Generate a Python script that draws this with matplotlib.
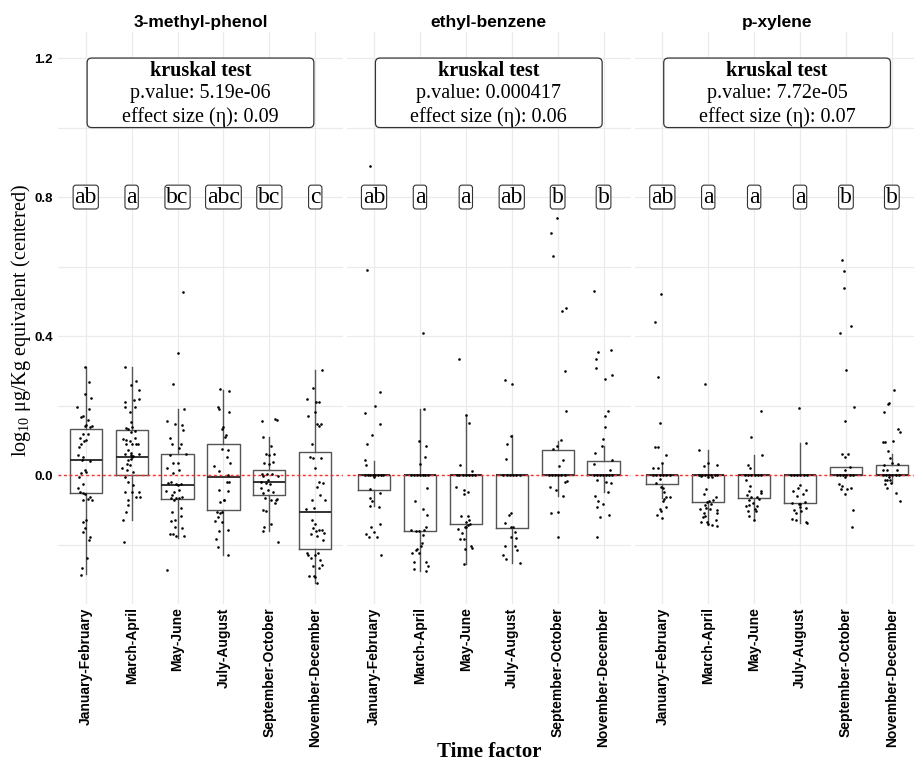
import matplotlib
matplotlib.use('Agg')
import matplotlib.pyplot as plt
from matplotlib.patches import FancyBboxPatch

plt.rcParams['mathtext.fontset'] = 'custom'
plt.rcParams['mathtext.rm'] = 'Liberation Serif'
plt.rcParams['mathtext.it'] = 'Liberation Serif:italic'
plt.rcParams['mathtext.bf'] = 'Liberation Serif:bold'

# ---------------- data ----------------
periods = ['January-February', 'March-April', 'May-June', 'July-August',
           'September-October', 'November-December']
compounds = ['3-methyl-phenol', 'ethyl-benzene', 'p-xylene']
p_values = ['5.19e-06', '0.000417', '7.72e-05']
effect_sizes = ['0.09', '0.06', '0.07']

mp_letters = ['ab', 'a', 'bc', 'abc', 'bc', 'c']
eb_letters = ['ab', 'a', 'a', 'ab', 'b', 'b']
px_letters = ['ab', 'a', 'a', 'a', 'b', 'b']

# box statistics
mp_q1 = [-0.052, 0.000, -0.070, -0.100, -0.057, -0.214]
mp_med = [0.042, 0.051, -0.029, -0.005, -0.021, -0.107]
mp_q3 = [0.133, 0.130, 0.061, 0.090, 0.015, 0.067]
mp_lo = [-0.286, -0.129, -0.181, -0.229, -0.162, -0.311]
mp_hi = [0.310, 0.310, 0.189, 0.245, 0.111, 0.302]

eb_q1 = [-0.043, -0.162, -0.141, -0.152, 0.0, 0.0]
eb_med = [0.0, 0.0, 0.0, 0.0, 0.0, 0.0]
eb_q3 = [0.0, 0.0, 0.0, 0.0, 0.073, 0.040]
eb_lo = [-0.090, -0.276, -0.255, -0.252, -0.059, -0.048]
eb_hi = [0.041, 0.189, 0.173, 0.114, 0.098, 0.084]

px_q1 = [-0.026, -0.078, -0.067, -0.081, 0.0, 0.0]
px_med = [0.0, 0.0, 0.0, 0.0, 0.0, 0.0]
px_q3 = [0.0, 0.0, 0.0, 0.0, 0.022, 0.029]
px_lo = [-0.067, -0.143, -0.130, -0.138, 0.0, -0.024]
px_hi = [0.036, 0.071, 0.057, 0.092, 0.022, 0.060]

mp_pts = [
    [(-0.01,0.310),(0.08,0.267),(-0.19,0.197),(-0.01,0.233),(0.11,0.222),(0.08,0.190),(-0.10,0.167),(-0.07,0.170),
     (0.06,0.159),(0.01,0.143),(-0.01,0.140),(0.14,0.140),(0.10,0.137),(-0.07,0.119),(0.04,0.119),(-0.12,0.108),
     (0.01,0.102),(-0.10,0.089),(-0.03,0.098),(-0.14,0.081),(-0.16,0.057),(-0.07,0.052),(-0.09,0.043),(0.09,0.041),
     (-0.01,0.014),(0.01,0.010),(-0.10,0.005),(-0.14,-0.005),(-0.07,-0.026),(-0.16,-0.038),(-0.12,-0.048),(-0.07,-0.052),
     (-0.01,-0.054),(0.09,-0.062),(0.06,-0.070),(-0.07,-0.071),(0.13,-0.071),(0.01,-0.130),(-0.05,-0.136),(-0.01,-0.152),
     (-0.07,-0.164),(0.09,-0.178),(0.07,-0.188),(0.02,-0.239),(-0.09,-0.268),(-0.11,-0.287)],
    [(-0.14,0.312),(-0.01,0.260),(0.09,0.271),(0.15,0.245),(0.06,0.216),(0.15,0.219),(-0.14,0.210),(-0.15,0.195),
     (0.08,0.195),(-0.04,0.181),(-0.01,0.154),(-0.12,0.136),(-0.09,0.133),(0.01,0.138),(0.08,0.127),(-0.02,0.124),
     (-0.19,0.104),(-0.12,0.102),(-0.04,0.098),(0.08,0.108),(-0.12,0.089),(0.01,0.089),(0.09,0.090),(0.14,0.089),
     (-0.09,0.073),(-0.01,0.064),(-0.14,0.062),(-0.01,0.057),(0.01,0.052),(0.04,0.054),(0.15,0.062),(-0.08,0.043),
     (-0.01,0.045),(-0.10,0.031),(-0.04,0.028),(-0.20,0.019),(-0.11,0.016),(0.02,0.010),(-0.15,-0.005),(-0.09,-0.019),
     (0.02,-0.029),(0.01,-0.048),(-0.14,-0.050),(0.15,-0.050),(0.09,-0.064),(0.18,-0.062),(-0.07,-0.073),(-0.09,-0.086),
     (-0.12,-0.105),(-0.18,-0.129),(-0.16,-0.193)],
    [(0.12,0.526),(0.02,0.352),(-0.09,0.262),(0.14,0.190),(-0.22,0.155),(-0.06,0.146),(0.09,0.143),(0.11,0.129),
     (-0.17,0.108),(-0.11,0.089),(0.07,0.089),(0.04,0.078),(-0.16,0.057),(0.18,0.062),(-0.09,0.036),(0.01,0.035),
     (-0.22,0.019),(0.04,0.016),(-0.09,0.005),(-0.20,-0.022),(-0.14,-0.019),(-0.04,-0.026),(0.01,-0.030),(0.07,-0.026),
     (0.04,-0.043),(-0.25,-0.045),(-0.07,-0.050),(-0.11,-0.057),(-0.14,-0.067),(0.04,-0.067),(0.09,-0.062),(-0.04,-0.067),
     (-0.07,-0.071),(-0.12,-0.105),(0.08,-0.095),(0.07,-0.119),(-0.14,-0.133),(-0.06,-0.129),(-0.05,-0.150),(0.09,-0.152),
     (-0.17,-0.171),(-0.09,-0.171),(-0.04,-0.176),(0.14,-0.176),(-0.22,-0.273)],
    [(-0.07,0.248),(0.13,0.243),(-0.11,0.195),(-0.09,0.190),(0.13,0.181),(-0.01,0.138),(-0.04,0.133),(0.06,0.114),
     (0.04,0.110),(-0.04,0.076),(0.11,0.071),(-0.20,0.027),(0.07,0.052),(0.14,0.035),(-0.09,0.012),(0.11,0.000),
     (0.07,-0.019),(0.13,-0.019),(-0.09,-0.043),(0.09,-0.045),(0.02,-0.071),(-0.07,-0.078),(0.01,-0.073),(-0.15,-0.107),
     (-0.04,-0.107),(-0.08,-0.110),(-0.12,-0.121),(-0.19,-0.133),(-0.03,-0.136),(0.09,-0.157),(-0.09,-0.162),(-0.16,-0.184),
     (0.10,-0.229),(-0.12,-0.207)],
    [(-0.17,0.157),(0.12,0.162),(0.16,0.159),(-0.13,0.111),(0.03,0.084),(-0.08,0.062),(0.10,0.062),(-0.01,0.057),
     (-0.12,0.035),(-0.01,0.033),(0.09,0.038),(-0.16,0.003),(-0.06,0.003),(0.05,0.002),(-0.13,-0.002),(-0.04,-0.014),
     (0.18,-0.003),(-0.08,-0.022),(-0.19,-0.019),(0.01,-0.026),(-0.18,-0.038),(-0.02,-0.043),(-0.13,-0.052),(0.09,-0.048),
     (-0.09,-0.067),(0.03,-0.071),(0.17,-0.070),(-0.13,-0.100),(-0.07,-0.103),(0.12,-0.081),(0.14,-0.071),(-0.14,-0.160),
     (0.03,-0.140),(-0.12,-0.148),(0.19,-0.193)],
    [(0.14,0.302),(-0.04,0.252),(-0.19,0.219),(0.01,0.210),(0.08,0.211),(-0.15,0.171),(-0.01,0.181),(0.04,0.146),
     (0.12,0.146),(0.08,0.140),(-0.07,0.089),(-0.12,0.052),(-0.04,0.048),(0.12,0.050),(-0.01,0.019),(0.09,-0.019),
     (0.16,-0.024),(0.03,-0.033),(-0.07,-0.071),(0.21,-0.071),(0.10,-0.057),(-0.21,-0.098),(-0.02,-0.095),(-0.08,-0.130),
     (-0.01,-0.140),(-0.04,-0.152),(0.08,-0.157),(0.14,-0.157),(0.01,-0.162),(-0.09,-0.171),(0.04,-0.176),(0.16,-0.186),
     (0.20,-0.167),(-0.19,-0.224),(-0.15,-0.229),(-0.01,-0.229),(0.06,-0.224),(-0.09,-0.238),(0.10,-0.243),(0.14,-0.259),
     (0.09,-0.267),(-0.04,-0.262),(-0.13,-0.289),(-0.02,-0.290),(0.04,-0.311),(0.00,-0.292)],
]

eb_pts = [
    [(-0.09,0.888),(-0.15,0.591),(0.14,0.238),(0.02,0.198),(-0.20,0.179),(0.13,0.148),(-0.05,0.116),(-0.16,0.090),
     (-0.20,0.043),(-0.17,0.028),(-0.20,0.0),(-0.14,0.0),(-0.08,0.0),(-0.03,0.0),(0.03,0.0),(0.09,0.0),(0.15,0.0),
     (0.20,0.0),(0.01,-0.005),(-0.09,-0.039),(0.14,-0.052),(-0.08,-0.067),(-0.04,-0.076),(-0.08,-0.090),(0.11,-0.093),
     (0.12,-0.140),(-0.06,-0.150),(-0.01,-0.165),(-0.17,-0.171),(-0.11,-0.179),(0.07,-0.178),(0.16,-0.230)],
    [(0.07,0.408),(0.08,0.190),(-0.02,0.099),(0.14,0.083),(0.12,0.052),(0.01,0.032),(-0.19,0.0),(-0.12,0.0),
     (-0.06,0.0),(0.0,0.0),(0.06,0.0),(0.12,0.0),(0.18,0.0),(0.15,-0.038),(-0.10,-0.075),(0.07,-0.097),(0.15,-0.116),
     (-0.19,-0.157),(-0.09,-0.160),(-0.01,-0.160),(0.14,-0.148),(0.09,-0.157),(0.06,-0.173),(0.05,-0.195),(0.03,-0.205),
     (-0.07,-0.212),(-0.09,-0.216),(-0.01,-0.224),(-0.18,-0.224),(0.13,-0.250),(-0.13,-0.250),(0.18,-0.262),
     (0.14,-0.277),(-0.12,-0.270)],
    [(-0.15,0.333),(0.0,0.173),(0.07,0.150),(-0.13,0.029),(0.14,0.012),(-0.20,0.0),(-0.14,0.0),(-0.07,0.0),(0.0,0.0),
     (0.06,0.0),(0.13,0.0),(0.19,0.0),(-0.21,-0.035),(-0.03,-0.043),(0.05,-0.050),(-0.03,-0.055),(-0.10,-0.117),
     (0.04,-0.117),(0.07,-0.129),(0.01,-0.136),(0.04,-0.145),(-0.02,-0.148),(0.0,-0.150),(0.09,-0.141),(-0.17,-0.155),
     (-0.09,-0.167),(-0.12,-0.183),(-0.04,-0.183),(-0.02,-0.214),(0.11,-0.205),(0.13,-0.210),(-0.03,-0.255)],
    [(-0.14,0.275),(0.01,0.261),(-0.01,0.112),(-0.10,0.089),(-0.13,0.045),(-0.18,0.0),(-0.11,0.0),(-0.04,0.0),
     (0.03,0.0),(0.10,0.0),(0.17,0.0),(-0.01,-0.110),(-0.05,-0.116),(-0.15,-0.138),(-0.02,-0.150),(0.02,-0.150),
     (0.07,-0.165),(-0.02,-0.178),(0.09,-0.181),(-0.15,-0.205),(0.07,-0.205),(0.11,-0.216),(-0.18,-0.229),
     (-0.12,-0.241),(0.17,-0.252)],
    [(-0.02,0.739),(-0.15,0.697),(-0.10,0.630),(0.10,0.471),(0.18,0.481),(0.17,0.300),(0.18,0.183),(0.07,0.100),
     (-0.01,0.084),(-0.11,0.074),(0.12,0.043),(0.04,0.027),(-0.19,0.0),(-0.12,0.0),(-0.06,0.0),(0.01,0.0),(0.08,0.0),
     (0.15,0.0),(0.16,-0.019),(0.20,-0.017),(-0.17,-0.033),(-0.04,-0.043),(0.12,-0.060),(-0.15,-0.108),(0.01,-0.105),
     (0.0,-0.179)],
    [(-0.20,0.530),(0.16,0.359),(-0.13,0.355),(-0.17,0.335),(-0.17,0.308),(0.19,0.289),(0.04,0.276),(0.10,0.184),
     (0.03,0.169),(0.03,0.137),(-0.02,0.105),(-0.04,0.084),(-0.18,0.064),(-0.20,0.033),(0.19,0.043),(0.15,0.014),
     (-0.21,0.0),(-0.14,0.0),(-0.08,0.0),(-0.01,0.0),(0.05,0.0),(0.12,0.0),(0.18,0.0),(-0.15,-0.014),(0.05,-0.019),
     (0.16,-0.022),(0.09,-0.048),(-0.18,-0.060),(-0.11,-0.076),(-0.01,-0.084),(-0.15,-0.093),(0.12,-0.114),
     (-0.08,-0.121),(-0.14,-0.178)],
]

px_pts = [
    [(-0.02,0.522),(-0.17,0.441),(-0.10,0.283),(-0.06,0.150),(-0.16,0.081),(-0.09,0.081),(0.07,0.057),(0.0,0.036),
     (-0.20,0.019),(-0.10,0.019),(-0.20,0.0),(-0.13,0.0),(-0.06,0.0),(0.01,0.0),(0.08,0.0),(0.16,0.0),(-0.05,-0.011),
     (-0.14,-0.022),(-0.03,-0.035),(0.01,-0.038),(0.03,-0.049),(0.02,-0.075),(0.08,-0.062),(0.04,-0.069),(0.17,-0.064),
     (0.07,-0.093),(-0.06,-0.098),(-0.04,-0.102),(-0.11,-0.114),(-0.01,-0.123)],
    [(-0.06,0.262),(-0.20,0.073),(-0.01,0.035),(0.18,0.028),(-0.09,0.027),(-0.20,0.0),(-0.13,0.0),(-0.07,0.0),
     (0.0,0.0),(0.07,0.0),(0.14,0.0),(0.20,0.0),(-0.16,-0.003),(-0.01,-0.005),(0.09,-0.005),(-0.04,-0.040),
     (0.17,-0.064),(-0.09,-0.055),(0.11,-0.071),(0.01,-0.074),(-0.02,-0.078),(0.07,-0.082),(-0.07,-0.086),
     (-0.04,-0.095),(-0.18,-0.098),(0.04,-0.098),(-0.10,-0.108),(0.19,-0.100),(-0.08,-0.119),(0.18,-0.110),
     (0.17,-0.129),(-0.12,-0.122),(-0.15,-0.136),(0.0,-0.140),(0.09,-0.143),(0.19,-0.146),(-0.02,-0.136)],
    [(0.14,0.183),(-0.07,0.110),(0.17,0.059),(-0.14,0.030),(-0.09,0.021),(-0.20,0.0),(-0.13,0.0),(-0.06,0.0),
     (0.01,0.0),(0.08,0.0),(0.15,0.0),(-0.18,-0.014),(-0.09,-0.031),(-0.12,-0.045),(0.16,-0.045),(0.16,-0.052),
     (-0.15,-0.057),(-0.07,-0.062),(0.07,-0.064),(0.10,-0.069),(-0.12,-0.071),(-0.02,-0.079),(-0.18,-0.090),
     (-0.12,-0.086),(0.07,-0.090),(0.01,-0.098),(0.04,-0.104),(-0.14,-0.103),(-0.12,-0.117),(0.0,-0.130)],
    [(-0.03,0.193),(0.12,0.093),(-0.20,0.0),(-0.13,0.0),(-0.06,0.0),(0.01,0.0),(0.08,0.0),(0.15,0.0),(-0.01,-0.030),
     (-0.04,-0.036),(-0.15,-0.046),(0.12,-0.044),(0.07,-0.054),(-0.07,-0.059),(-0.17,-0.079),(-0.02,-0.084),
     (0.01,-0.083),(0.11,-0.078),(-0.01,-0.093),(0.12,-0.094),(-0.14,-0.100),(-0.09,-0.110),(0.03,-0.103),
     (-0.17,-0.126),(-0.09,-0.128),(0.12,-0.136),(0.15,-0.139)],
    [(-0.09,0.619),(-0.04,0.588),(-0.04,0.537),(-0.12,0.410),(0.10,0.429),(0.01,0.302),(0.17,0.197),(-0.01,0.155),
     (-0.09,0.060),(0.04,0.060),(-0.03,0.052),(0.09,0.022),(-0.01,0.016),(-0.20,0.0),(-0.13,0.0),(-0.06,0.0),
     (0.01,0.0),(0.08,0.0),(0.15,0.0),(-0.03,-0.005),(-0.16,-0.026),(-0.09,-0.031),(-0.10,-0.041),(0.02,-0.040),
     (0.10,-0.038),(-0.03,-0.055),(0.15,-0.100),(0.14,-0.150)],
    [(0.04,0.246),(-0.07,0.208),(-0.09,0.205),(-0.16,0.181),(0.13,0.133),(0.17,0.124),(-0.20,0.095),(-0.14,0.095),
     (0.03,0.099),(-0.09,0.070),(-0.04,0.048),(0.01,0.036),(-0.16,0.029),(0.14,0.031),(-0.20,0.016),(-0.11,0.016),
     (0.11,0.014),(-0.20,0.0),(-0.13,0.0),(-0.06,0.0),(0.01,0.0),(0.08,0.0),(0.15,0.0),(-0.07,-0.005),(-0.14,-0.014),
     (-0.11,-0.014),(-0.05,-0.014),(-0.01,-0.022),(-0.14,-0.026),(-0.11,-0.038),(0.09,-0.053),(0.18,-0.075)],
]

panels = [
    (mp_q1, mp_med, mp_q3, mp_lo, mp_hi, mp_pts, mp_letters),
    (eb_q1, eb_med, eb_q3, eb_lo, eb_hi, eb_pts, eb_letters),
    (px_q1, px_med, px_q3, px_lo, px_hi, px_pts, px_letters),
]

# ---------------- layout ----------------
W, H = 914, 763
fig = plt.figure(figsize=(W / 100, H / 100), dpi=100)
unit_px = 45.9
lefts_px = [58.2, 346.5, 634.8]
top_px, bot_px = 32, 604
y_lo, y_hi = -0.371, 1.275

SANS = 'Liberation Sans'
SERIF = 'Liberation Serif'

for i, (q1, med, q3, lo, hi, pts, letters) in enumerate(panels):
    xr = min(6.6, 0.4 + (W - lefts_px[i]) / unit_px)
    wpx = (xr - 0.4) * unit_px
    ax = fig.add_axes([lefts_px[i] / W, (H - bot_px) / H, wpx / W, (bot_px - top_px) / H])
    ax.set_xlim(0.4, xr)
    ax.set_ylim(y_lo, y_hi)
    for s in ax.spines.values():
        s.set_visible(False)
    ax.set_yticks([0.0, 0.4, 0.8, 1.2])
    ax.set_yticks([-0.2, 0.2, 0.6, 1.0], minor=True)
    ax.set_xticks(range(1, 7))
    ax.grid(True, which='both', color='#ebebeb', lw=0.9, zorder=0)
    ax.set_axisbelow(True)
    ax.tick_params(which='both', length=0)
    ax.tick_params(axis='y', pad=4)
    ax.tick_params(axis='x', pad=2.5)
    if i == 0:
        ax.set_yticklabels(['0.0', '0.4', '0.8', '1.2'], fontsize=9.5,
                           fontweight='bold', family=SANS)
    else:
        ax.set_yticklabels([])
    ax.set_xticklabels(periods, rotation=90, fontsize=10, fontweight='bold',
                       family=SANS, va='top', ha='center')

    stats = [dict(q1=q1[k], med=med[k], q3=q3[k], whislo=lo[k], whishi=hi[k], fliers=[])
             for k in range(6)]
    ax.bxp(stats, positions=list(range(1, 7)), widths=0.7, showfliers=False,
           showcaps=False, manage_ticks=False,
           boxprops=dict(color='#555555', lw=1.0),
           whiskerprops=dict(color='#555555', lw=1.0),
           medianprops=dict(color='#222222', lw=1.3))

    ax.axhline(0.0, color='#ff2a2a', ls=(0, (2, 2)), lw=1.0, zorder=3)

    for k, grp in enumerate(pts):
        xs = [k + 1 + j for j, v in grp]
        ys = [v for j, v in grp]
        ax.scatter(xs, ys, s=3.5, c='black', linewidths=0, zorder=4)

    for k, lab in enumerate(letters):
        ax.text(k + 1, 0.8, lab, ha='center', va='center', fontsize=17,
                family=SERIF, zorder=5,
                bbox=dict(boxstyle='round,pad=0.06,rounding_size=0.12',
                          fc='white', ec='#333333', lw=0.8))

    # kruskal box
    box = FancyBboxPatch((1.03, 1.0), 4.94, 0.2,
                         boxstyle='round,pad=0,rounding_size=0.1',
                         mutation_aspect=0.132, fc='white', ec='#333333',
                         lw=0.9, zorder=5)
    ax.add_patch(box)
    ax.text(3.5, 1.163, 'kruskal test', ha='center', va='center', fontsize=14.5,
            fontweight='bold', family=SERIF, zorder=6)
    ax.text(3.5, 1.098, 'p.value: ' + p_values[i], ha='center', va='center',
            fontsize=14.5, family=SERIF, zorder=6)
    ax.text(3.5, 1.031, 'effect size (η): ' + effect_sizes[i], ha='center',
            va='center', fontsize=14.5, family=SERIF, zorder=6)

    cx = lefts_px[i] + 3.1 * unit_px
    fig.text(cx / W, 1 - 22 / H, compounds[i], ha='center', va='center',
             fontsize=12.5, fontweight='bold', family=SANS)

fig.text(21 / W, 1 - 320 / H, r'log$_{10}$ μg/Kg equivalent (centered)',
         rotation=90, ha='center', va='center', fontsize=14.5, family=SERIF)
fig.text(489 / W, 1 - 752 / H, 'Time factor', ha='center', va='center',
         fontsize=15, fontweight='bold', family=SERIF)

fig.savefig('out.png', dpi=100)
